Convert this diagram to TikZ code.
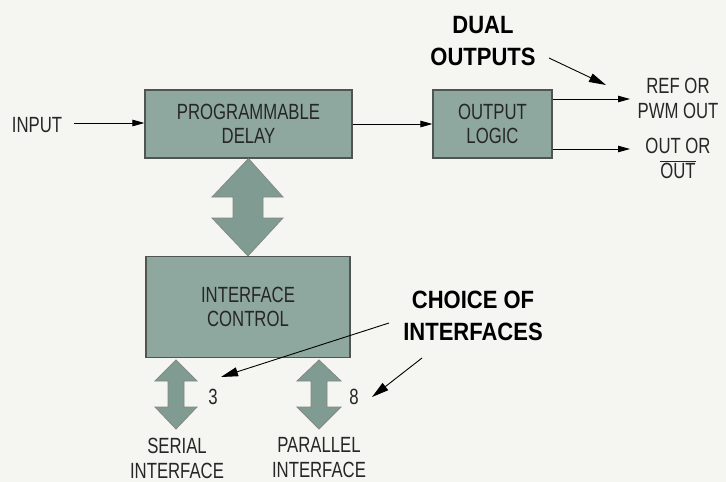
\documentclass[tikz,border=0pt]{standalone}
\usepackage{fontspec}
\setmainfont{Liberation Sans}[FakeStretch=0.76]
\newfontfamily\boldlab{Liberation Sans Bold}[FakeStretch=0.88]
\usetikzlibrary{arrows.meta}
\definecolor{boxfill}{HTML}{8FA89F}
\definecolor{arrfill}{HTML}{7F9B92}
\definecolor{bg}{HTML}{F5F5F1}
\definecolor{edge}{HTML}{505552}
\begin{document}
\begin{tikzpicture}[x=1pt,y=-1pt,
  blk/.style={draw=edge,line width=1.2pt,fill=boxfill,inner sep=0pt,align=center,
    font=\fontsize{22}{24}\selectfont,text=black!85},
  lab/.style={align=center,inner sep=0pt,font=\fontsize{22}{25}\selectfont,text=black!85},
  blab/.style={align=center,inner sep=0pt,font=\boldlab\fontsize{25}{32}\selectfont},
  sig/.style={line width=0.9pt,-{Triangle[length=12pt,width=6.5pt]}},
  call/.style={line width=0.9pt,-{Triangle[length=17pt,width=9pt]}},
  fat/.style={draw=edge!70,line width=0.8pt,fill=arrfill,line join=miter}]
\fill[bg] (0,0) rectangle (726,482);
\useasboundingbox (0,0) rectangle (726,482);
% blocks
\node[blk,minimum width=207pt,minimum height=68pt] (pd) at (248.5,124) {PROGRAMMABLE\\DELAY};
\node[blk,minimum width=119pt,minimum height=68pt] (ol) at (492.5,124) {OUTPUT\\LOGIC};
\node[blk,minimum width=204pt,minimum height=101pt] (ic) at (248,307) {INTERFACE\\CONTROL};
% text labels
\node[lab] (in) at (37,125) {INPUT};
\node[lab] (ref) at (678,98) {REF OR\\PWM OUT};
\node[lab] (out) at (678,158) {OUT OR\\$\overline{\mbox{OUT}}$};
\node[blab] (dual) at (483,41) {DUAL\\OUTPUTS};
\node[blab] (choice) at (473,316) {CHOICE OF\\INTERFACES};
\node[lab] (ser) at (177,458) {SERIAL\\INTERFACE};
\node[lab] (par) at (319,458) {PARALLEL\\INTERFACE};
\node[lab] (n3) at (213,397) {3};
\node[lab] (n8) at (354,397) {8};
% coordinates
\coordinate (o1) at (630,99);
\coordinate (o2) at (630,149);
\coordinate (t1) at (606,85);
\coordinate (t2) at (221,377);
\coordinate (t3) at (372,397);
% signal arrows
\draw[sig] (in.east)++(12,-2) -- (pd.west |- 0,123);
\draw[sig] (pd.east) -- (ol.west);
\draw[sig] (ol.east |- o1) -- (o1);
\draw[sig] (ol.east |- o2) -- (o2);
% callouts
\draw[call] (549,58) -- (t1);
\draw[call] (389,323) -- (t2);
\draw[call] (422,358) -- (t3);
% fat double arrows
\draw[fat] (pd.south) -- (283,197) -- (263,197) -- (263,218) -- (283,218) -- (ic.north)
  -- (212,218) -- (233,218) -- (233,197) -- (212,197) -- cycle;
\draw[fat] (176,360) -- (197,381) -- (184,381) -- (184,407) -- (197,407) -- (176,429)
  -- (155,407) -- (168,407) -- (168,381) -- (155,381) -- cycle;
\draw[fat] (319,360) -- (341,381) -- (327,381) -- (327,407) -- (341,407) -- (319,429)
  -- (297,407) -- (311,407) -- (311,381) -- (297,381) -- cycle;
\end{tikzpicture}
\end{document}
